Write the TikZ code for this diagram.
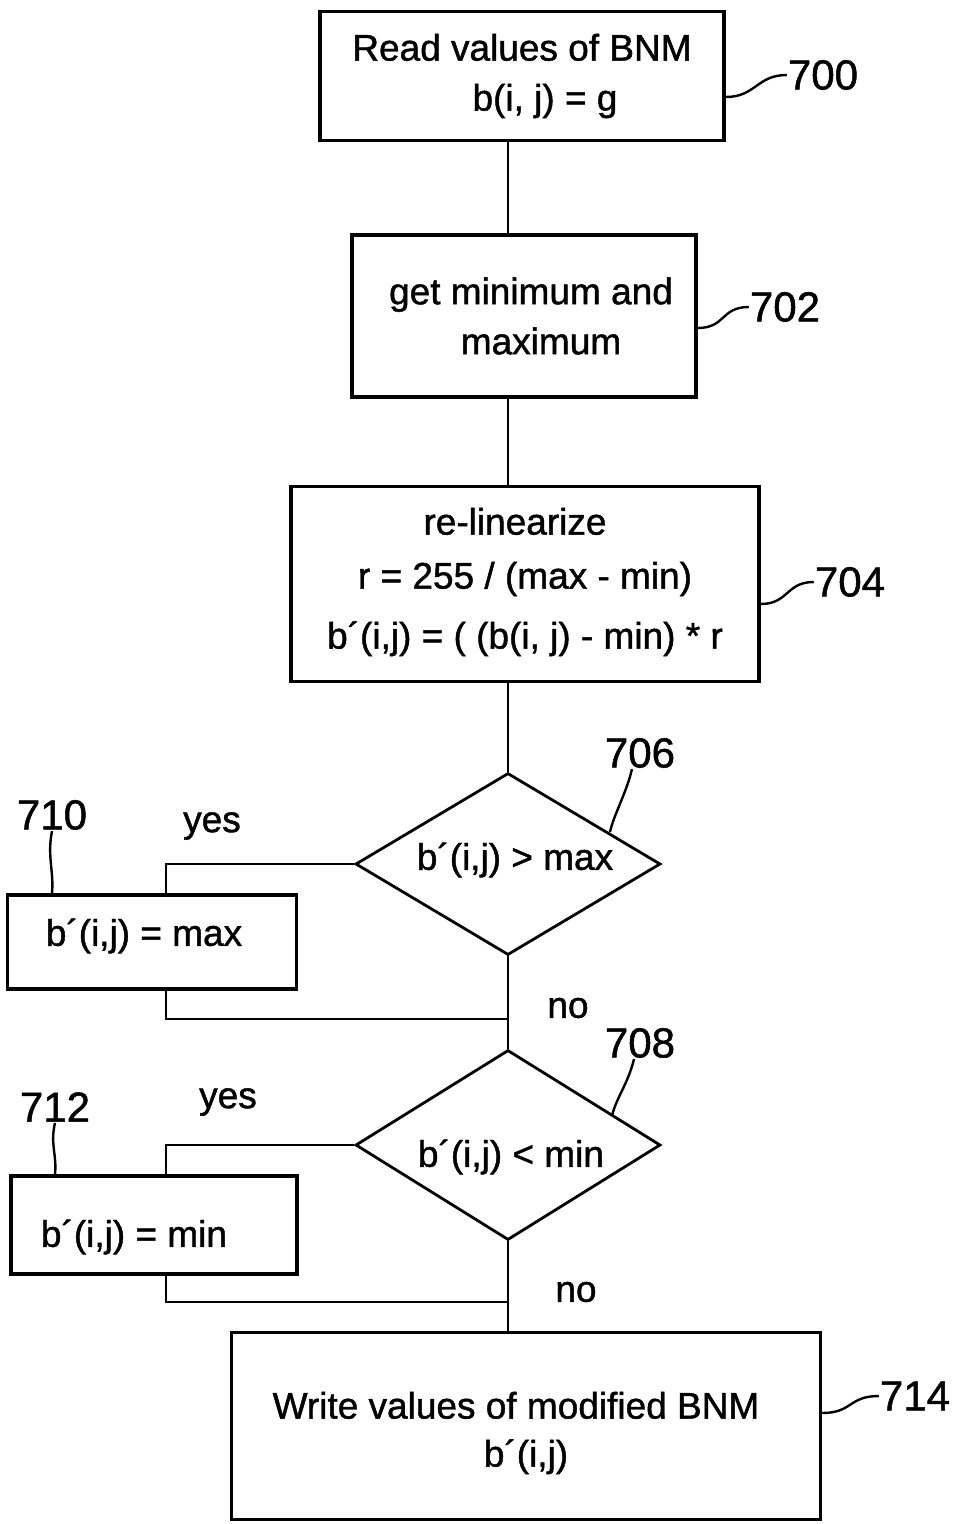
\documentclass[tikz,border=0pt]{standalone}
\usepackage{fontspec}
\setmainfont[FakeBold=1.2]{Liberation Sans}
\usetikzlibrary{shapes.geometric}

\newcommand{\shiftText}[2]{\raisebox{#1}[\height][\depth]{#2}}

\begin{document}
\begin{tikzpicture}[x=1pt, y=-1pt,
    every node/.style={font=\fontsize{37}{50}\selectfont},
    box/.style={draw, line width=3.5pt, align=center, inner sep=0pt},
    test/.style={draw, diamond, line width=2.8pt, inner sep=0pt, aspect=1.7},
    refnum/.style={font=\fontsize{42}{50}\selectfont, inner sep=1pt},
    flow/.style={line width=2.6pt},
    leader/.style={line width=2.4pt}]
    \useasboundingbox (0,0) rectangle (955,1524);

    % spine and loop columns
    \coordinate (spine) at (508,0);
    \coordinate (loopX) at (166,0);

    \node[box, minimum width=404pt, minimum height=129pt] (readBox) at (522,76) {Read values of BNM\\ \hspace*{46pt}b(i, j) = g};
    \node[box, minimum width=344pt, minimum height=162pt] (minMaxBox) at (524,316) {\hspace*{14pt}get minimum and\\ \hspace*{34pt}maximum};
    \node[box, minimum width=468pt, minimum height=195pt] (relinBox) at (525,584) {\shiftText{4pt}{re-linearize}\hspace*{20pt}\\ r = 255 / (max - min)\hspace*{12pt}\\[10pt] b´(i,j) = ( (b(i, j) - min) * r};
    \node[test, minimum width=305pt, minimum height=182pt] (maxTest) at (508,864) {\hspace*{14pt}\shiftText{4pt}{b´(i,j) > max}};
    \node[box, minimum width=289pt, minimum height=94pt] (setMax) at (152,942) {\shiftText{6pt}{b´(i,j) = max}\hspace*{16pt}};
    \node[test, minimum width=305pt, minimum height=190pt] (minTest) at (508,1145) {\hspace*{6pt}\shiftText{-12pt}{b´(i,j) < min}};
    \node[box, minimum width=286pt, minimum height=98pt] (setMin) at (154,1225) {\shiftText{-12pt}{b´(i,j) = min}\hspace*{40pt}};
    \node[box, minimum width=589pt, minimum height=187pt] (writeBox) at (526,1426) {\shiftText{-8pt}{Write values of modified BNM}\hspace*{20pt}\\ \shiftText{-6pt}{b´(i,j)}};

    % reference numbers
    \node[refnum] (refRead) at (823,75) {700};
    \node[refnum] (refMinMax) at (785,307) {702};
    \node[refnum] (refRelin) at (850,582) {704};
    \node[refnum] (refMaxTest) at (640,753) {706};
    \node[refnum] (refMinTest) at (640,1043) {708};
    \node[refnum] (refSetMax) at (52,815) {710};
    \node[refnum] (refSetMin) at (55,1107) {712};
    \node[refnum] (refWrite) at (915,1396) {714};

    % branch labels
    \node (yesMax) at (212,826) {yes};
    \node (noMax) at (568,1008) {no};
    \node (yesMin) at (228,1102) {yes};
    \node (noMin) at (576,1292) {no};

    % flow lines
    \draw[flow] (readBox.south -| spine) -- (minMaxBox.north -| spine);
    \draw[flow] (minMaxBox.south -| spine) -- (relinBox.north -| spine);
    \draw[flow] (relinBox.south -| spine) -- (maxTest.north);
    \draw[flow] (maxTest.west) -| (setMax.north -| loopX);
    \coordinate (joinMax) at (508,1019);
    \draw[flow] (setMax.south -| loopX) |- (joinMax);
    \draw[flow] (maxTest.south) -- (minTest.north);
    \draw[flow] (minTest.west) -| (setMin.north -| loopX);
    \coordinate (joinMin) at (508,1302);
    \draw[flow] (setMin.south -| loopX) |- (joinMin);
    \draw[flow] (minTest.south) -- (writeBox.north -| minTest.south);

    % leaders
    \draw[leader] (readBox.east) ++(0,21) .. controls +(30,0) and +(-30,0) .. (refRead.west);
    \draw[leader] (minMaxBox.east) ++(0,12) .. controls +(28,0) and +(-28,0) .. (refMinMax.west);
    \draw[leader] (relinBox.east) ++(0,20) .. controls +(28,0) and +(-28,0) .. (refRelin.west);
    \draw[leader] (writeBox.east) ++(0,-13) .. controls +(30,0) and +(-30,0) .. (refWrite.west);
    \draw[leader] (refMaxTest.south) ++(-8,0) .. controls +(-6,25) and +(4,-18) .. (610,832);
    \draw[leader] (refMinTest.south) ++(-6,0) .. controls +(-6,25) and +(4,-18) .. (612,1116);
    \draw[leader] (refSetMax.south) .. controls +(-5,25) and +(2,-22) .. (setMax.north -| refSetMax);
    \draw[leader] (refSetMin.south) .. controls +(-5,22) and +(2,-20) .. (setMin.north -| refSetMin);
\end{tikzpicture}
\end{document}
